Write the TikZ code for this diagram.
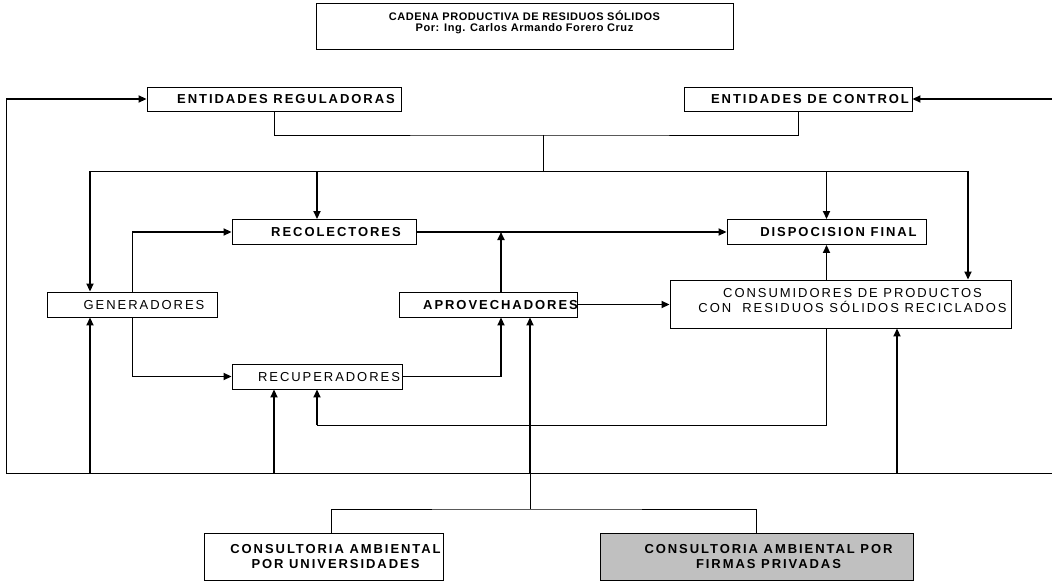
\documentclass[tikz,border=0pt]{standalone}
\usepackage{fontspec}
\setmainfont{Liberation Sans}
\newfontfamily\boxfont{Liberation Sans}[LetterSpace=15]
\newfontfamily\titlefont{Liberation Sans}[LetterSpace=5]
\usetikzlibrary{arrows.meta}
\newcommand{\boxtext}[2][-1.5pt]{\hspace*{24pt}\raisebox{#1}[\height][\depth]{\begin{tabular}{@{}c@{}}#2\end{tabular}}}

\begin{document}
\begin{tikzpicture}[
  x=1pt, y=-1pt,
  box/.style={draw,line width=0.9pt,inner sep=0pt,minimum height=25pt,font=\boxfont\fontsize{13}{15}\selectfont},
  boldbox/.style={box,font=\boxfont\bfseries\fontsize{13}{15}\selectfont},
  lnk/.style={line width=0.9pt},
  arr/.style={line width=1.8pt,-{Triangle[length=8pt,width=7pt]}}
]
\useasboundingbox (0,0) rectangle (1052,583);
% Title
\node[box,minimum width=417pt,minimum height=46pt,font=\titlefont\bfseries\fontsize{11}{10.5}\selectfont] (title) at (524.5,26)
  {\raisebox{3.5pt}[\height][\depth]{\begin{tabular}{@{}c@{}}CADENA PRODUCTIVA DE RESIDUOS SÓLIDOS\\Por: Ing. Carlos Armando Forero Cruz\end{tabular}}};
% Entidades
\node[boldbox,minimum width=254pt,minimum height=24pt] (reg) at (274,99) {\boxtext{ENTIDADES REGULADORAS}};
\node[boldbox,minimum width=228pt,minimum height=24pt] (ctrl) at (798,99) {\boxtext{ENTIDADES DE CONTROL}};
% Cadena
\node[boldbox,minimum width=184pt] (recol) at (324,232) {\boxtext{RECOLECTORES}};
\node[boldbox,minimum width=199pt] (disp) at (826.5,232) {\boxtext{DISPOCISION FINAL}};
\node[box,minimum width=170pt] (gen) at (132,304.5) {\boxtext{GENERADORES}};
\node[boldbox,minimum width=173pt] (aprov) at (488.5,304.5) {\boxtext{APROVECHADORES}};
\node[box,minimum width=341pt,minimum height=48pt] (cons) at (840.5,304)
  {\boxtext[2pt]{CONSUMIDORES DE PRODUCTOS\\CON~~RESIDUOS SÓLIDOS RECICLADOS}};
\node[box,minimum width=170pt] (recup) at (317,376.5) {\boxtext{RECUPERADORES}};
% Consultoria
\node[boldbox,minimum width=239pt,minimum height=47pt] (univ) at (323.5,556.5)
  {\boxtext{CONSULTORIA AMBIENTAL\\POR UNIVERSIDADES}};
\node[boldbox,minimum width=313pt,minimum height=47pt,fill={rgb,255:red,192;green,192;blue,192}] (firmas) at (756.5,556.5)
  {\boxtext{CONSULTORIA AMBIENTAL POR\\FIRMAS PRIVADAS}};

\coordinate (hub) at (543,135);
\coordinate (busW) at (90,171);
\coordinate (busE) at (968,171);
\coordinate (lt) at (6,99);
\coordinate (rt) at (1052,99);
\coordinate (bL) at (6,473);
\coordinate (bR) at (1052,473);
\coordinate (split) at (530,509);
\coordinate (apN) at ([xshift=12.5pt]aprov.north);
\coordinate (apS) at ([xshift=12.5pt]aprov.south);
\coordinate (ret) at (recup.south |- 0,425);

% entidades hacia la cadena
\draw[lnk] (reg.south) |- (hub) -| (ctrl.south);
\draw[lnk] (hub) -- (hub |- busW);
\draw[lnk] (busW) -- (busE);
\draw[arr] (busW) -- (busW |- gen.north);
\draw[arr] (busW -| recup.south) -- (recol.north -| recup.south);
\draw[arr] (disp.north |- busW) -- (disp.north);
\draw[arr] (busE) -- (busE |- cons.north);

% flujos
\draw[lnk] (gen.north) -- (gen.north |- recol.west);
\draw[arr] (gen.north |- recol.west) -- (recol.west);
\draw[lnk] (gen.south) -- (gen.south |- recup.west);
\draw[arr] (gen.south |- recup.west) -- (recup.west);
\draw[arr] (recol.east) -- (recol.east -| disp.west);
\draw[arr] (apN) -- (apN |- recol.east);
\draw[lnk] (recup.east) -- (recup.east -| apS);
\draw[arr] (recup.east -| apS) -- (apS);
\draw[arr] (aprov.east) -- (aprov.east -| cons.west);
\draw[arr] (cons.north -| disp.south) -- (disp.south);
\draw[lnk] (cons.south -| disp.south) |- (ret);
\draw[arr] (ret) -- (recup.south);

% consultoria
\draw[lnk] (bL) -- (bR);
\draw[lnk] (bL) -- (lt);
\draw[arr] (lt) -- (reg.west);
\draw[arr] (rt) -- (ctrl.east);
\draw[arr] (bL -| busW) -- (gen.south -| busW);
\draw[arr] (bL -| 274,0) -- ([xshift=-43pt]recup.south);
\draw[arr] (bL -| split) -- (split |- aprov.south);
\draw[arr] (bL -| 897,0) -- ([xshift=56.5pt]cons.south);
\draw[lnk] (split) -- (split |- bL);
\draw[lnk] ([xshift=7.5pt]univ.north) |- (split) -| (firmas.north);
\end{tikzpicture}
\end{document}
